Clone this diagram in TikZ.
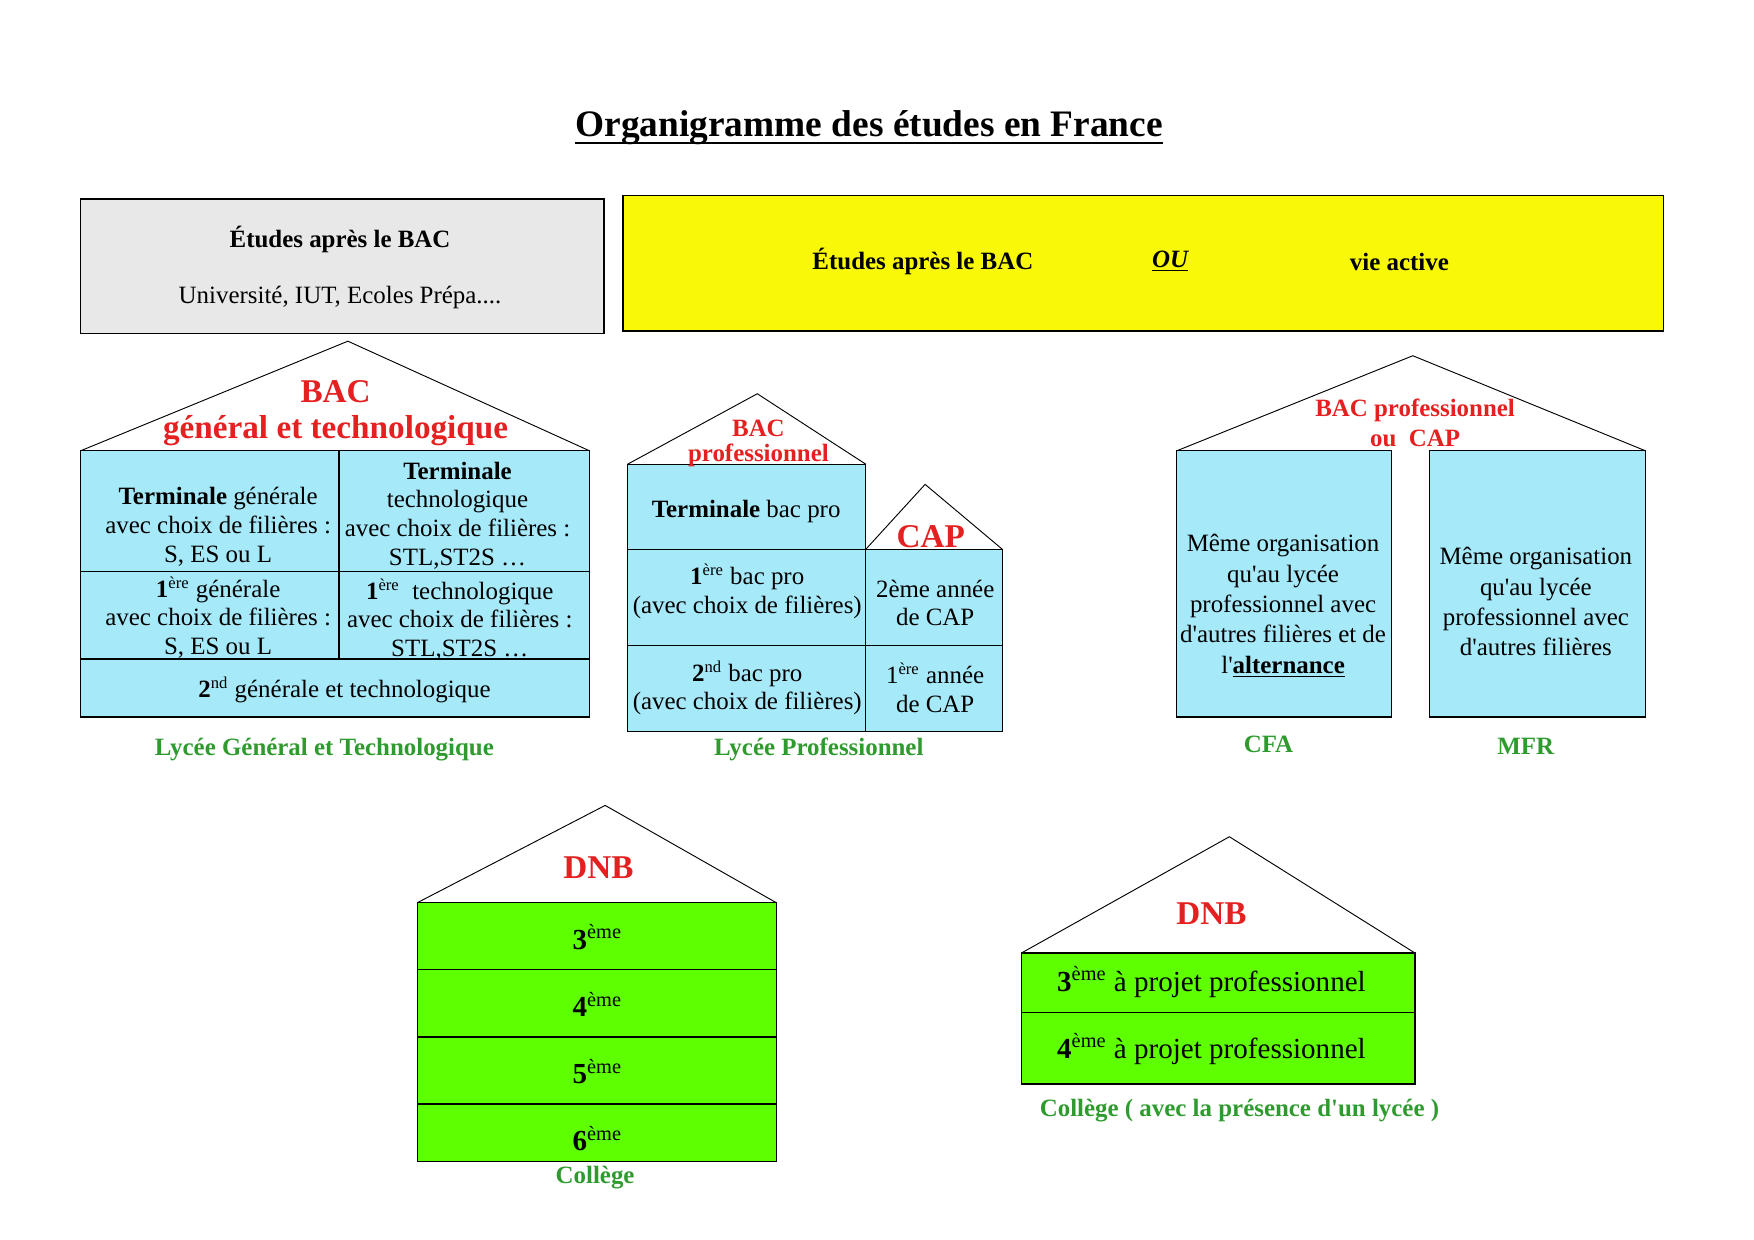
\documentclass[tikz,border=0pt]{standalone}
\usepackage{fontspec}
\setmainfont{Liberation Serif}
\definecolor{cellblue}{HTML}{A6E9F9}
\definecolor{cellgreen}{HTML}{5EFF00}
\definecolor{greybox}{HTML}{E8E8E8}
\definecolor{yellowbox}{HTML}{F8F808}
\definecolor{bacred}{HTML}{E42020}
\definecolor{schoolgreen}{HTML}{2F9B2F}
\newcommand{\expo}[1]{\textsuperscript{#1}}
\newcommand{\apos}{\textquotesingle}
\begin{document}
\begin{tikzpicture}[x=0.018941cm, y=-0.018941cm,
    txt/.style={inner sep=0pt, yshift=-1pt, align=center, font=\fontsize{12}{13.8}\selectfont},
    bigtxt/.style={inner sep=0pt, yshift=-1pt, align=center, font=\fontsize{14}{16}\selectfont},
    red12/.style={inner sep=0pt, yshift=-1pt, text=bacred, font=\fontsize{12}{13.8}\selectfont\bfseries},
    red16/.style={inner sep=0pt, yshift=-1pt, text=bacred, font=\fontsize{16}{18.4}\selectfont\bfseries},
    school/.style={inner sep=0pt, yshift=-1pt, text=schoolgreen, font=\fontsize{12}{13.8}\selectfont\bfseries},
    roof/.style={line width=0.45pt},
    cell/.style={draw, line width=0.6pt, fill=cellblue},
    greencell/.style={draw, line width=0.6pt, fill=cellgreen}]
  \useasboundingbox (0,0) rectangle (1568,1108.5);

  \node[inner sep=0pt, anchor=base, font=\fontsize{18}{21}\selectfont\bfseries] (title) at (777,122) {Organigramme des études en France};
  \draw[line width=0.9pt] ([yshift=-3pt]title.base west) -- ([yshift=-3pt]title.base east);

  % apres le bac
  \filldraw[fill=greybox, line width=0.6pt] (72,178) rectangle (540,298);
  \filldraw[fill=yellowbox, line width=0.6pt] (557,175) rectangle (1487,296);
  \node[txt, font=\fontsize{12}{13.8}\selectfont\bfseries] (ab1) at (304,212) {Études après le BAC};
  \node[txt] (univ) at (304,264) {Université, IUT, Ecoles Prépa....};
  \node[txt, font=\fontsize{12}{13.8}\selectfont\bfseries] (ab2) at (825,232) {Études après le BAC};
  \node[txt, font=\fontsize{12}{13.8}\selectfont\bfseries\itshape] (ou) at (1046,232) {\underline{OU}};
  \node[txt, font=\fontsize{12}{13.8}\selectfont\bfseries] (vie) at (1251,232) {vie active};

  % lycee general et technologique
  \filldraw[cell] (72,403) rectangle (527,641);
  \draw[line width=0.6pt] (72,511) -- (527,511) (72,589) -- (527,589) (303,403) -- (303,589);
  \draw[roof] (72,403) -- (311,305) -- (527,403);
  \node[red16] (bac1) at (300,348) {BAC};
  \node[red16] (bac1b) at (300,383) {général et technologique};
  \node[txt] (tg) at (195,469) {\textbf{Terminale} générale\\avec choix de filières :\\S, ES ou L};
  \node[txt] (tt) at (409,459) {\textbf{Terminale}\\technologique\\avec choix de filières :\\STL,ST2S \dots};
  \node[txt] (pg) at (195,550) {\textbf{1}\expo{ère} générale\\avec choix de filières :\\S, ES ou L};
  \node[txt] (pt) at (411,552) {\textbf{1}\expo{ère}\ \ technologique\\avec choix de filières :\\STL,ST2S \dots};
  \node[txt] (sg) at (308,615) {\textbf{2}\expo{nd} générale et technologique};
  \node[school] (lgt) at (290,668) {Lycée Général et Technologique};

  % lycee professionnel
  \filldraw[cell] (561,415) rectangle (774,654);
  \filldraw[cell] (774,491) rectangle (896,654);
  \draw[line width=0.6pt] (561,491) -- (774,491) (561,577) -- (896,577);
  \draw[roof] (561,415) -- (677,352) -- (774,415);
  \draw[roof] (774,491) -- (827,433) -- (896,491);
  \node[red12] (bac2) at (678,381) {BAC};
  \node[red12] (bac2b) at (678,405) {professionnel};
  \node[red16] (cap) at (832,478) {CAP};
  \node[txt] (tbp) at (667,455) {\textbf{Terminale} bac pro};
  \node[txt] (pbp) at (668,527) {\textbf{1}\expo{ère} bac pro\\(avec choix de filières)};
  \node[txt] (sbp) at (668,613) {\textbf{2}\expo{nd} bac pro\\(avec choix de filières)};
  \node[txt] (cap2) at (836,537) {2ème année\\de CAP};
  \node[txt] (cap1) at (836,613) {1\expo{ère} année\\de CAP};
  \node[school] (lp) at (732,668) {Lycée Professionnel};

  % cfa et mfr
  \filldraw[cell] (1052,403) rectangle (1244,641);
  \filldraw[cell] (1278,403) rectangle (1471,641);
  \draw[roof] (1052,403) -- (1263,318) -- (1471,403);
  \node[red12] (bac3) at (1265,365) {BAC professionnel};
  \node[red12] (bac3b) at (1265,390) {ou\ \ CAP};
  \node[txt, font=\fontsize{12}{14.6}\selectfont] (cfatxt) at (1147,540) {Même organisation\\qu\apos au lycée\\professionnel avec\\d\apos autres filières et de\\l\apos\underline{\textbf{alternance}}};
  \node[txt, font=\fontsize{12}{14.6}\selectfont] (mfrtxt) at (1373,536) {Même organisation\\qu\apos au lycée\\professionnel avec\\d\apos autres filières};
  \node[school] (cfa) at (1134,664) {CFA};
  \node[school] (mfr) at (1364,665) {MFR};

  % college
  \filldraw[greencell] (373,807) rectangle (694,1038);
  \draw[line width=0.6pt] (373,867) -- (694,867) (373,927) -- (694,927) (373,987) -- (694,987);
  \draw[roof] (373,807) -- (541,720) -- (694,807);
  \node[red16] (dnb1) at (535,774) {DNB};
  \foreach \y/\n in {836/3,896/4,956/5,1016/6}
    \node[bigtxt] (c\n) at (534,\y) {\textbf{\n}\expo{ème}};
  \node[school] (col) at (532,1051) {Collège};

  % college avec lycee
  \filldraw[greencell] (913,852) rectangle (1265,969);
  \draw[line width=0.6pt] (913,905) -- (1265,905);
  \draw[roof] (913,852) -- (1099,748) -- (1265,852);
  \node[red16] (dnb2) at (1083,815) {DNB};
  \node[bigtxt] (pp3) at (1083,876) {\textbf{3}\expo{ème} à projet professionnel};
  \node[bigtxt] (pp4) at (1083,936) {\textbf{4}\expo{ème} à projet professionnel};
  \node[school] (colp) at (1108,991) {Collège ( avec la présence d\apos un lycée )};
\end{tikzpicture}
\end{document}
